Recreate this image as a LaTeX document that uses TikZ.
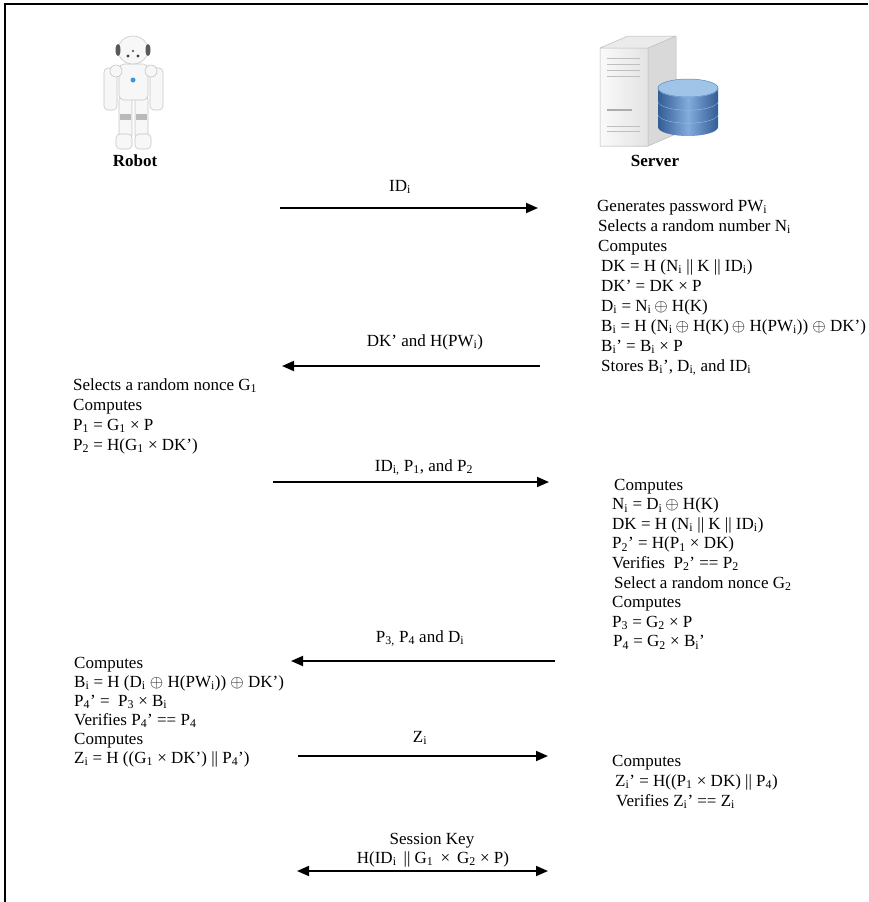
\documentclass[tikz,border=0pt]{standalone}
\usepackage{fontspec}
\setmainfont{Liberation Serif}
\usetikzlibrary{arrows.meta}

\newcommand\sbs[1]{\textsubscript{#1}}
\newcommand\xo{\ensuremath{\oplus}}

\definecolor{dbdark}{RGB}{50,92,148}
\definecolor{dbmid}{RGB}{88,138,196}
\definecolor{dblight}{RGB}{130,172,220}
\definecolor{dbtop}{RGB}{160,196,232}

% one text line per node, baselines spaced evenly
\newcommand\textblock[5]{%
  \foreach \ln [count=\k from 0] in {#5} {%
    \node[txt] (#1-\k) at ({#2},{#3+\k*#4+6}) {\ln};}}

\begin{document}
\begin{tikzpicture}[x=1pt,y=-1pt,
  txt/.style={anchor=base west, inner sep=0pt, font=\fontsize{17}{20}\selectfont},
  lbl/.style={anchor=base, inner sep=0pt, font=\fontsize{17}{20}\selectfont},
  role/.style={anchor=base, inner sep=0pt, font=\fontsize{17}{20}\selectfont\bfseries},
  msg/.style={line width=1.8pt, -{Triangle[length=12pt,width=10pt]}},
  both/.style={line width=1.8pt, {Triangle[length=12pt,width=10pt]}-{Triangle[length=12pt,width=10pt]}},
  robotpart/.style={fill=gray!6, draw=gray!45, line width=0.6pt}]

\useasboundingbox (0,0) rectangle (868,902);

% frame
\draw[line width=2pt] (5,902) -- (5,4) -- (868,4);

% ---------- robot ----------
\draw[robotpart, rounded corners=4pt] (104,68) rectangle (117,110);
\draw[robotpart, rounded corners=4pt] (150,68) rectangle (163,110);
\draw[robotpart, rounded corners=3pt] (119,96) rectangle (132,138);
\draw[robotpart, rounded corners=3pt] (135,96) rectangle (148,138);
\fill[gray!55] (120,114) rectangle (131,120);
\fill[gray!55] (136,114) rectangle (147,120);
\draw[robotpart, rounded corners=4pt] (116,134) rectangle (132,149);
\draw[robotpart, rounded corners=4pt] (135,134) rectangle (151,149);
\draw[robotpart, rounded corners=5pt] (119,64) rectangle (148,100);
\draw[robotpart] (116,71) ellipse (6 and 6);
\draw[robotpart] (151,71) ellipse (6 and 6);
\fill[cyan!70!blue!80] (133,80) circle (2.5);
\draw[robotpart] (133,50) ellipse (15 and 14);
\fill[gray!70!black] (118,50) ellipse (2.5 and 6);
\fill[gray!70!black] (148,50) ellipse (2.5 and 6);
\fill[black!75] (128,56) circle (1.6);
\fill[black!75] (138,56) circle (1.6);
\fill[black!75] (133,51) circle (1.2);

% ---------- server ----------
\fill[gray!30] (648,48) -- (676,36) -- (676,134) -- (648,146) -- cycle;
\fill[gray!16] (600,48) -- (628,36) -- (676,36) -- (648,48) -- cycle;
\shade[left color=gray!4, right color=gray!22] (600,48) rectangle (648,146);
\draw[gray!55, line width=0.5pt] (600,48) -- (628,36) -- (676,36) -- (676,134)
  -- (648,146) -- (600,146) -- cycle (600,48) -- (648,48) -- (676,36) (648,48) -- (648,146);
\foreach \yy in {58,64,70,76,126,131}
  \draw[gray!50, line width=0.8pt] (607,\yy) -- (640,\yy);
\draw[gray!65, line width=2pt] (607,110) -- (632,110);

% database cylinder: three stacked discs
\foreach \yt in {114,101,88} {
  \shade[left color=dbdark, right color=dbdark, middle color=dblight]
    (658,\yt) -- (658,\yt+13)
    arc[start angle=180, end angle=0, x radius=30, y radius=9]
    -- (718,\yt) arc[start angle=0, end angle=180, x radius=30, y radius=9] -- cycle;
  \draw[dbtop, line width=0.8pt] (718,\yt) arc[start angle=0, end angle=180, x radius=30, y radius=9];
}
\fill[dbtop] (688,88) ellipse (30 and 9);
\draw[dbmid, line width=0.5pt] (688,88) ellipse (30 and 9);

% ---------- parties ----------
\node[role] (robot) at (135,166) {Robot};
\node[role] (server) at (655,166) {Server};

% ---------- messages ----------
\coordinate (m1a) at (280,208);  \coordinate (m1b) at (538,208);
\coordinate (m2a) at (540,366);  \coordinate (m2b) at (282,366);
\coordinate (m3a) at (273,482);  \coordinate (m3b) at (549,482);
\coordinate (m4a) at (555,661);  \coordinate (m4b) at (291,661);
\coordinate (m5a) at (298,756);  \coordinate (m5b) at (548,756);
\coordinate (m6a) at (297,871);  \coordinate (m6b) at (548,871);

\draw[msg]  (m1a) -- (m1b);
\draw[msg]  (m2a) -- (m2b);
\draw[msg]  (m3a) -- (m3b);
\draw[msg]  (m4a) -- (m4b);
\draw[msg]  (m5a) -- (m5b);
\draw[both] (m6a) -- (m6b);

\node[lbl] (l1) at (400,191) {ID\sbs{i}};
\node[lbl] (l2) at (425,346) {DK’ and H(PW\sbs{i})};
\node[lbl] (l3) at (424,471) {ID\sbs{i,} P\sbs{1}, and P\sbs{2}};
\node[lbl] (l4) at (420,642) {P\sbs{3,} P\sbs{4} and D\sbs{i}};
\node[lbl] (l5) at (420,742) {Z\sbs{i}};
\node[lbl] (l6a) at (432,844) {Session Key};
\node[lbl] (l6b) at (433,863) {H(ID\sbs{i}\ \,|| G\sbs{1} \,×\, G\sbs{2} × P)};

% ---------- computations ----------
\textblock{s1}{597}{205}{20}{
  {Generates password PW\sbs{i}},
  {\hspace{1pt}Selects a random number N\sbs{i}},
  {\hspace{1pt}Computes},
  {\hspace{4pt}DK = H (N\sbs{i} || K || ID\sbs{i})},
  {\hspace{4pt}DK’ = DK × P},
  {\hspace{4pt}D\sbs{i} = N\sbs{i}\,\xo\ H(K)},
  {\hspace{4pt}B\sbs{i} = H (N\sbs{i}\,\xo\ H(K)\,\xo\ H(PW\sbs{i}))\ \xo\ DK’)},
  {\hspace{4pt}B\sbs{i}’ = B\sbs{i} × P},
  {\hspace{4pt}Stores B\sbs{i}’, D\sbs{i,} and ID\sbs{i}}}

\textblock{r2}{73}{384}{20}{
  {Selects a random nonce G\sbs{1}},
  {Computes},
  {P\sbs{1} = G\sbs{1} × P},
  {P\sbs{2} = H(G\sbs{1} × DK’)}}

\textblock{s3}{612}{484}{19.6}{
  {\hspace{2pt}Computes},
  {N\sbs{i} = D\sbs{i}\,\xo\ H(K)},
  {DK = H (N\sbs{i} || K || ID\sbs{i})},
  {P\sbs{2}’ = H(P\sbs{1} × DK)},
  {Verifies\ \ P\sbs{2}’ == P\sbs{2}},
  {\hspace{2pt}Select a random nonce G\sbs{2}},
  {Computes},
  {P\sbs{3} = G\sbs{2} × P},
  {\hspace{1pt}P\sbs{4} = G\sbs{2} × B\sbs{i}’}}

\textblock{r4}{74}{662}{19}{
  {Computes},
  {B\sbs{i} = H (D\sbs{i}\ \xo\ H(PW\sbs{i}))\ \xo\ DK’)},
  {P\sbs{4}’ = \ P\sbs{3} × B\sbs{i}},
  {Verifies P\sbs{4}’ == P\sbs{4}},
  {Computes},
  {Z\sbs{i} = H ((G\sbs{1} × DK’) || P\sbs{4}’)}}

\textblock{s5}{612}{760}{20}{
  {Computes},
  {\hspace{3pt}Z\sbs{i}’ = H((P\sbs{1} × DK) || P\sbs{4})},
  {\hspace{4pt}Verifies Z\sbs{i}’ == Z\sbs{i}}}

\end{tikzpicture}
\end{document}
